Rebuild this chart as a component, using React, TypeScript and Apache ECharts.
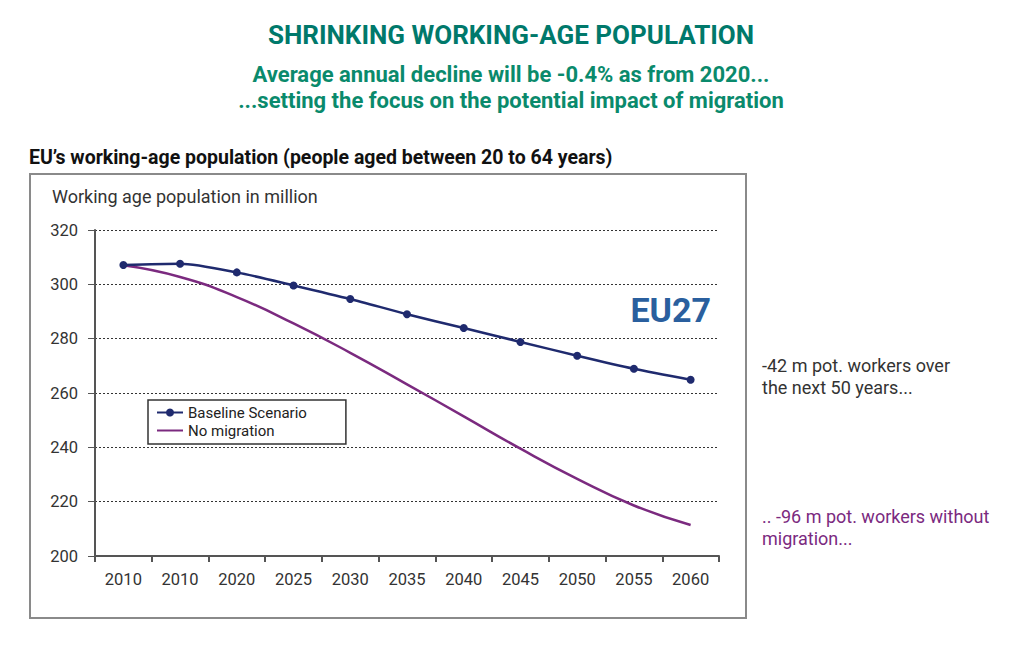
import React, { useEffect, useRef } from "react";
import * as echarts from "echarts";

const categories = ["2010", "2010", "2020", "2025", "2030", "2035", "2040", "2045", "2050", "2055", "2060"];
const baseline = [307.1, 307.6, 304.4, 299.6, 294.6, 289.0, 283.9, 278.8, 273.7, 268.9, 264.9];
const noMigration = [307.0, 302.7, 295.3, 285.6, 274.8, 263.2, 251.4, 239.5, 228.4, 218.6, 211.4];
const yTicks = { min: 200, max: 320, interval: 20 };

const FONT = "Roboto, 'DejaVu Sans', sans-serif";
const NAVY = "#1f2a6e";
const PURPLE = "#7b2a7f";

export default function App() {
  const ref = useRef<HTMLDivElement>(null);
  useEffect(() => {
    if (!ref.current) return;
    const chart = echarts.init(ref.current, undefined, { renderer: "svg" });
    chart.setOption({
      animation: false,
      backgroundColor: "#ffffff",
      textStyle: { fontFamily: FONT },
      grid: { left: 95, right: 305, top: 230, bottom: 95, containLabel: false },
      xAxis: {
        type: "category",
        data: categories,
        boundaryGap: true,
        axisLine: { show: true, lineStyle: { color: "#555", width: 2 } },
        axisTick: { show: true, length: 6, lineStyle: { color: "#555", width: 2 } },
        axisLabel: { color: "#333", fontSize: 16.5, margin: 15, fontFamily: FONT, interval: 0 },
      },
      yAxis: {
        type: "value",
        min: yTicks.min,
        max: yTicks.max,
        interval: yTicks.interval,
        axisLine: { show: true, lineStyle: { color: "#555", width: 2 } },
        axisTick: { show: true, length: 7, lineStyle: { color: "#555", width: 1 } },
        axisLabel: { color: "#333", fontSize: 16.5, margin: 17, fontFamily: FONT },
        splitLine: { show: true, lineStyle: { color: "#333", type: [2, 2], width: 1 } },
      },
      legend: {
        orient: "vertical",
        left: 148,
        top: 400,
        itemWidth: 26,
        itemHeight: 10,
        itemGap: 3,
        padding: [5, 39, 6, 8],
        borderColor: "#333",
        borderWidth: 1.5,
        textStyle: { color: "#222", fontSize: 15, fontFamily: FONT },
        data: [
          { name: "Baseline Scenario" },
          { name: "No migration", itemStyle: { opacity: 0 } },
        ],
      },
      series: [
        {
          name: "Baseline Scenario",
          type: "line",
          data: baseline,
          smooth: 0.25,
          symbol: "circle",
          symbolSize: 8,
          itemStyle: { color: NAVY },
          lineStyle: { color: NAVY, width: 2.5 },
          z: 3,
        },
        {
          name: "No migration",
          type: "line",
          data: noMigration,
          smooth: 0.5,
          symbol: "none",
          itemStyle: { color: PURPLE },
          lineStyle: { color: PURPLE, width: 2.5 },
          z: 2,
        },
      ],
      graphic: [
        {
          type: "rect",
          shape: { x: 30, y: 174, width: 716, height: 444 },
          style: { fill: "none", stroke: "#8a8a8a", lineWidth: 2 },
          silent: true,
        },
        {
          type: "text",
          x: 511,
          y: 35,
          style: {
            text: "SHRINKING WORKING-AGE POPULATION",
            fill: "#00796b",
            font: `bold 26px ${FONT}`,
            align: "center",
            verticalAlign: "middle",
          },
        },
        {
          type: "text",
          x: 511,
          y: 74,
          style: {
            text: "Average annual decline will be -0.4% as from 2020...",
            fill: "#0a8a6c",
            font: `bold 22px ${FONT}`,
            align: "center",
            verticalAlign: "middle",
          },
        },
        {
          type: "text",
          x: 511,
          y: 100,
          style: {
            text: "...setting the focus on the potential impact of migration",
            fill: "#0a8a6c",
            font: `bold 22px ${FONT}`,
            align: "center",
            verticalAlign: "middle",
          },
        },
        {
          type: "text",
          x: 29,
          y: 157,
          style: {
            text: "EU\u2019s working-age population (people aged between 20 to 64 years)",
            fill: "#111",
            font: `bold 19.5px ${FONT}`,
            align: "left",
            verticalAlign: "middle",
          },
        },
        {
          type: "text",
          x: 52,
          y: 196,
          style: {
            text: "Working age population in million",
            fill: "#333",
            font: `18px ${FONT}`,
            align: "left",
            verticalAlign: "middle",
          },
        },
        {
          type: "text",
          x: 711,
          y: 310,
          style: {
            text: "EU27",
            fill: "#2a5f9e",
            font: `bold 34px ${FONT}`,
            align: "right",
            verticalAlign: "middle",
          },
        },
        {
          type: "text",
          x: 762,
          y: 354,
          style: {
            text: "-42 m pot. workers over\nthe next 50 years...",
            fill: "#333",
            font: `18px ${FONT}`,
            lineHeight: 22,
            align: "left",
            verticalAlign: "top",
          },
        },
        {
          type: "text",
          x: 762,
          y: 505,
          style: {
            text: ".. -96 m pot. workers without\nmigration...",
            fill: PURPLE,
            font: `18px ${FONT}`,
            lineHeight: 22,
            align: "left",
            verticalAlign: "top",
          },
        },
      ],
    });
    return () => chart.dispose();
  }, []);
  return (
    <div
      ref={ref}
      style={{ position: "fixed", left: 0, top: 0, width: 1024, height: 651 }}
    />
  );
}
